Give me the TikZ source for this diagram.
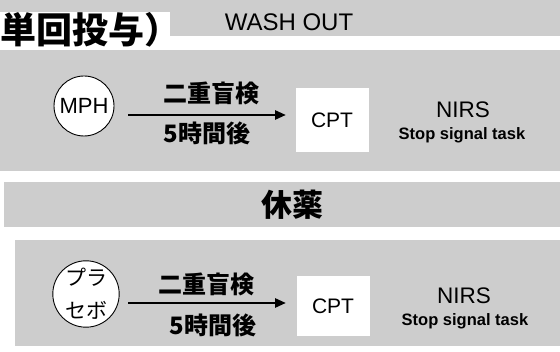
\documentclass[tikz,border=0pt]{standalone}
\usepackage{fontspec}
\setmainfont{Liberation Sans}
\newfontfamily\jp{Noto Sans CJK JP}
\usetikzlibrary{arrows.meta}
\definecolor{dither}{HTML}{CDCDCD}
\tikzset{
  panel/.style={fill=dither, draw=none},
  dose/.style={circle, draw=black, line width=0.9pt, fill=white, minimum size=60pt, inner sep=0pt, align=center},
  cptbox/.style={fill=white, draw=none, minimum width=73pt, inner sep=0pt, font=\fontsize{21}{23}\selectfont},
  jpbold/.style={font=\jp\bfseries\fontsize{24}{26}\selectfont, inner sep=0pt},
  nirs/.style={font=\fontsize{22.5}{24}\selectfont, inner sep=0pt},
  sst/.style={font=\bfseries\fontsize{16.5}{18}\selectfont, inner sep=0pt},
  flow/.style={line width=2.6pt, -{Triangle[length=11pt,width=9pt]}}
}
\begin{document}
\begin{tikzpicture}[x=1pt,y=-1pt]
\useasboundingbox (0,0) rectangle (560,352);
\clip (0,0) rectangle (560,352);
% backgrounds
\fill[panel] (0,0) rectangle (560,36);
\fill[white] (0,12) rectangle (170,48);
\fill[panel] (0,50) rectangle (560,171);
\fill[panel] (4,182) rectangle (560,227);
\fill[panel] (15,240) rectangle (560,346);
% header texts
\node[anchor=west, inner sep=0pt, font=\jp\bfseries\fontsize{36}{40}\selectfont] (title) at (0.5,30) {単回投与）};
\node[inner sep=0pt, font=\fontsize{24}{26}\selectfont] (wash) at (289,22) {WASH OUT};
\node[inner sep=0pt, font=\jp\bfseries\fontsize{31}{33}\selectfont] (rest) at (292,205) {休薬};
% top row
\node[dose, font=\fontsize{22}{24}\selectfont] (mph) at (84,106) {MPH};
\node[cptbox, minimum height=64pt] (cpt1) at (332,120) {CPT};
\coordinate (a1s) at (128,115);
\coordinate (a1e) at (286,115);
\draw[flow] (a1s) -- (a1e);
\node[jpbold] (dbt1) at (211,93) {二重盲検};
\node[jpbold] (h1) at (207,133) {5時間後};
\node[nirs] (nirs1) at (463,110) {NIRS};
\node[sst] (sst1) at (462,135) {Stop signal task};
% bottom row
\node[dose, font=\jp\fontsize{21}{33}\selectfont] (plc) at (86,294) {プラ\\セボ};
\node[cptbox, minimum height=60pt] (cpt2) at (333,306) {CPT};
\coordinate (a2s) at (128,303);
\coordinate (a2e) at (286,303);
\draw[flow] (a2s) -- (a2e);
\node[jpbold] (dbt2) at (206,284) {二重盲検};
\node[jpbold] (h2) at (213,325) {5時間後};
\node[nirs] (nirs2) at (464,296) {NIRS};
\node[sst] (sst2) at (465,321) {Stop signal task};
\end{tikzpicture}
\end{document}
